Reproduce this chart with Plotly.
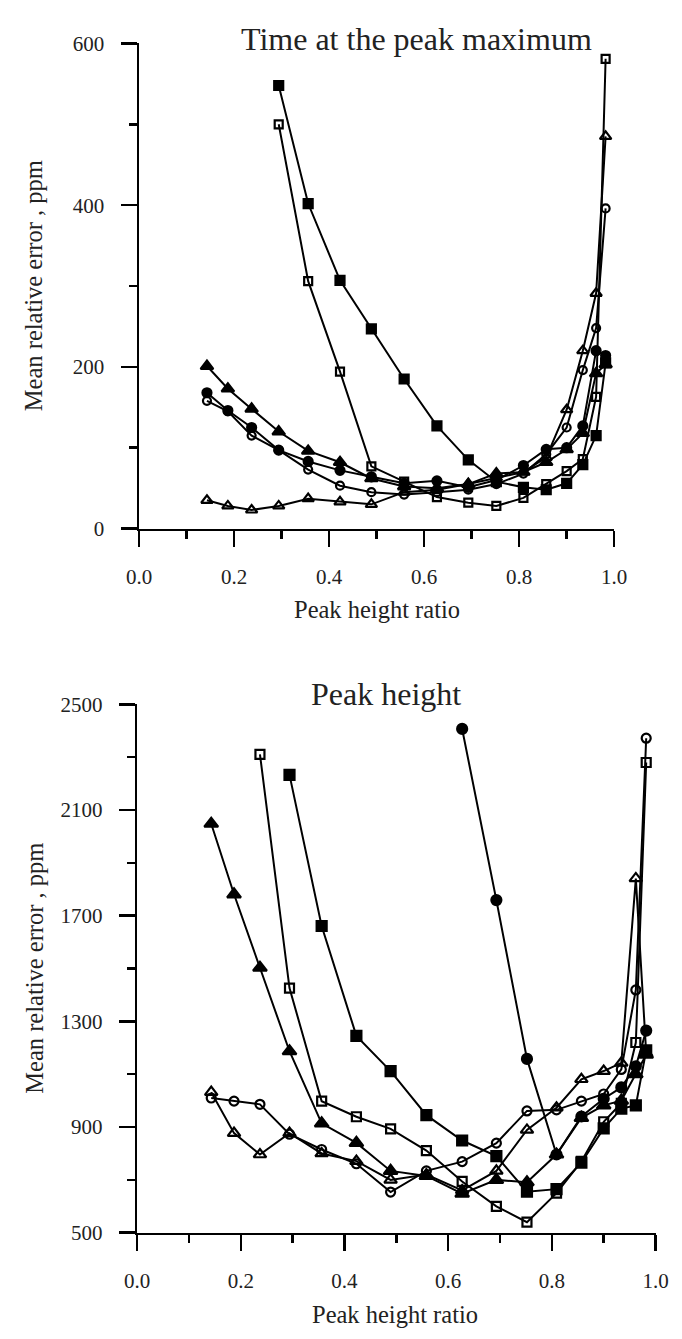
import plotly.graph_objects as go

W, H = 682, 1339

# ---------------- data ----------------
x_ratio = [0.143, 0.187, 0.237, 0.294, 0.356, 0.423, 0.489, 0.558, 0.627,
           0.693, 0.752, 0.809, 0.857, 0.900, 0.934, 0.962, 0.982]
x_ratio_sq = x_ratio[3:]

# Top: Time at the peak maximum
t_tri_filled = [201, 173, 148, 120, 96, 82, 62, 52, 50, 55, 68, 70, 82, 98, 118, 192, 203]
t_circ_filled = [168, 146, 125, 97, 83, 72, 64, 56, 59, 51, 60, 78, 98, 100, 127, 220, 214]
t_circ_open = [158, 145, 115, 97, 73, 53, 45, 42, 45, 48, 55, 68, 92, 125, 196, 248, 396]
t_tri_open = [35, 28, 23, 28, 37, 33, 30, 45, 48, 55, 63, 70, 88, 147, 220, 291, 485]
t_sq_open = [500, 306, 194, 77, 58, 39, 32, 28, 38, 55, 71, 86, 163, 581]
t_sq_filled = [548, 402, 307, 247, 185, 127, 85, 58, 51, 48, 56, 79, 115, 205]

# Bottom: Peak height
h_tri_filled = [2048, 1781, 1503, 1187, 914, 840, 734, 715, 648, 700, 691, 796, 935, 982, 1000, 1100, 1174]
h_circ_open = [1010, 998, 986, 873, 815, 761, 654, 734, 769, 839, 961, 965, 998, 1025, 1118, 1419, 2372]
h_tri_open = [1032, 877, 796, 877, 800, 771, 700, 720, 660, 734, 889, 973, 1081, 1112, 1143, 1841, 1180]
x_sq_open_h = x_ratio[2:]
h_sq_open = [2311, 1426, 998, 939, 893, 811, 694, 600, 540, 650, 770, 920, 990, 1220, 2280]
h_sq_filled = [2233, 1661, 1245, 1112, 945, 849, 790, 655, 665, 765, 895, 970, 982, 1190]
x_circ_filled_h = x_ratio[8:]
h_circ_filled = [2407, 1759, 1158, 796, 940, 1007, 1050, 1130, 1265]

x_ticks = [0.0, 0.2, 0.4, 0.6, 0.8, 1.0]
y_ticks_top = [0, 200, 400, 600]
y_ticks_bot = [500, 900, 1300, 1700, 2100, 2500]

FONT = "Liberation Serif"
TXT = "#222222"

fig = go.Figure()


def add(x, y, symbol, size, xa, ya):
    fig.add_trace(go.Scatter(
        x=x, y=y, mode="lines+markers", xaxis=xa, yaxis=ya,
        line=dict(color="black", width=2),
        marker=dict(symbol=symbol, size=size, color="black",
                    line=dict(color="black", width=2.2)),
        cliponaxis=False, showlegend=False, hoverinfo="skip"))


# top
add(x_ratio, t_tri_open, "triangle-up-open", 10, "x", "y")
add(x_ratio, t_circ_open, "circle-open", 8, "x", "y")
add(x_ratio_sq, t_sq_open, "square-open", 8, "x", "y")
add(x_ratio, t_circ_filled, "circle", 9, "x", "y")
add(x_ratio, t_tri_filled, "triangle-up", 11, "x", "y")
add(x_ratio_sq, t_sq_filled, "square", 9, "x", "y")
# bottom
add(x_ratio, h_tri_open, "triangle-up-open", 11, "x2", "y2")
add(x_ratio, h_circ_open, "circle-open", 9, "x2", "y2")
add(x_sq_open_h, h_sq_open, "square-open", 9, "x2", "y2")
add(x_circ_filled_h, h_circ_filled, "circle", 10, "x2", "y2")
add(x_ratio, h_tri_filled, "triangle-up", 12, "x2", "y2")
add(x_ratio_sq, h_sq_filled, "square", 10, "x2", "y2")


def fx(px):
    return px / W


def fy(py):
    return 1 - py / H


axis_common = dict(showline=True, linecolor="black", linewidth=2.5, ticks="outside",
                   ticklen=16, tickwidth=2.5, tickcolor="black", showgrid=False,
                   zeroline=False, tickfont=dict(family=FONT, size=21, color=TXT))
minor_common = dict(ticklen=8, tickwidth=2.5, tickcolor="black", ticks="outside")

fig.update_layout(
    width=W, height=H, margin=dict(l=0, r=0, t=0, b=0),
    paper_bgcolor="white", plot_bgcolor="white",
    xaxis=dict(domain=[fx(131), fx(625)], range=[0, 1], anchor="y",
               tickvals=x_ticks, tickformat=".1f", ticklabelstandoff=12,
               minor=dict(dtick=0.1, **minor_common), **axis_common),
    yaxis=dict(domain=[fy(526), fy(32)], range=[0, 600], anchor="x",
               tickvals=y_ticks_top, ticklabelstandoff=12,
               minor=dict(dtick=100, **minor_common), **axis_common),
    xaxis2=dict(domain=[fx(129), fx(668)], range=[0, 1], anchor="y2",
                tickvals=x_ticks, tickformat=".1f", ticklabelstandoff=12,
                minor=dict(dtick=0.1, **minor_common), **axis_common),
    yaxis2=dict(domain=[fy(1243), fy(705)], range=[500, 2500], anchor="x2",
                tickvals=y_ticks_bot, ticklabelstandoff=12,
                minor=dict(dtick=200, tick0=500, **minor_common), **axis_common),
)

ann = [
    ("Time at the peak maximum", 419, 28, 32, 0),
    ("Peak height ratio", 378, 608, 24.5, 0),
    ("Peak height", 388, 694, 32, 0),
    ("Peak height ratio", 397, 1326, 24.5, 0),
    ("Mean relative error , ppm", 22, 279, 24.5, -90),
    ("Mean relative error , ppm", 22, 974, 24.5, -90),
]
for text, px, py, size, ang in ann:
    fig.add_annotation(text=text, x=fx(px), y=fy(py), xref="paper", yref="paper",
                       showarrow=False, textangle=ang, xanchor="center", yanchor="middle",
                       font=dict(family=FONT, size=size, color=TXT))

fig.write_html("out.html", config={"displayModeBar": False, "staticPlot": True},
               post_script="document.body.style.margin='0px';document.body.style.overflow='hidden';")
